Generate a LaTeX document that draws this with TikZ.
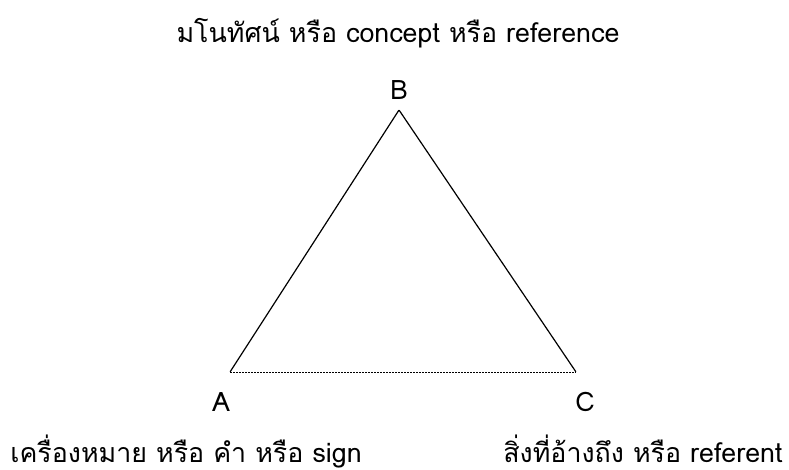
\documentclass[tikz,border=0pt]{standalone}
\usepackage{fontspec}
\setmainfont[Script=Thai]{Loma}
\begin{document}
\begin{tikzpicture}[x=1pt,y=-1pt]
		\tikzset{vtx/.style={inner sep=0pt, minimum size=0pt}}
		\tikzset{lbl/.style={font=\fontsize{26.8}{30}\selectfont, inner sep=0pt, anchor=base}}
		\useasboundingbox (0,0) rectangle (789,470);
		\node[vtx] (B) at (399,110) {};
		\node[vtx] (A) at (230,372) {};
		\node[vtx] (C) at (576,372) {};
		\node[lbl] (Bl) at (399,100) {B};
		\node[lbl] (Al) at (221,411) {A};
		\node[lbl] (Cl) at (585,411) {C};
		\draw[line width=1.2pt] (A) -- (B) -- (C);
		\draw[line width=0.5pt, dash pattern=on 1.5pt off 1.5pt] (A) -- (C);
		\node[lbl] (top) at (398,43) {มโนทัศน์ หรือ concept หรือ reference};
		\node[lbl] (sign) at (186,462) {เครื่องหมาย หรือ คำ หรือ sign};
		\node[lbl] (ref) at (643,462) {สิ่งที่อ้างถึง หรือ referent};
	\end{tikzpicture}
\end{document}
